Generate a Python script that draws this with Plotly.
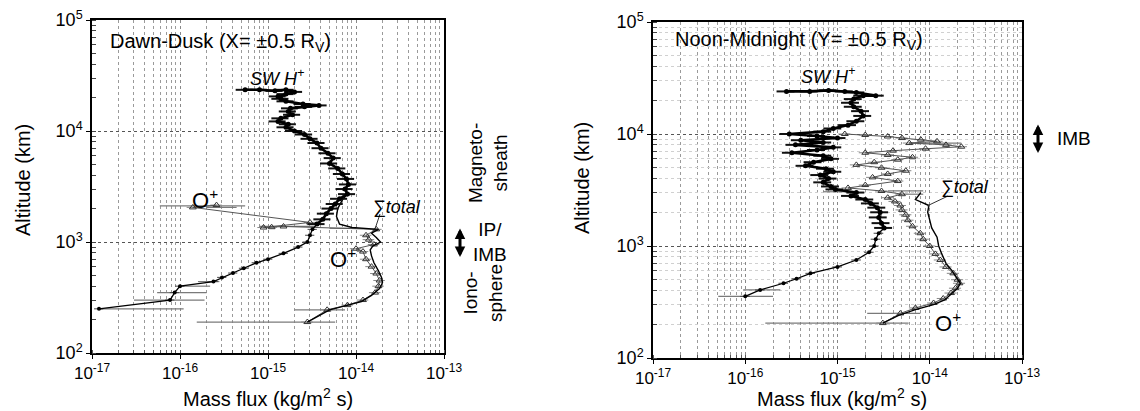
import numpy as np
import plotly.graph_objects as go

# ---------------- DATA ----------------
# Left panel: Dawn-Dusk
dd_h_alt = [2.35e4, 2.35e4, 2.3e4, 2.35e4, 2.25e4, 2.15e4, 2.05e4, 1.95e4, 1.85e4, 1.75e4, 1.7e4, 1.65e4,
            1.6e4, 1.5e4, 1.4e4, 1.3e4, 1.22e4, 1.15e4, 1.08e4, 1.0e4, 9.3e3, 8.5e3, 7.8e3, 7.0e3, 6.3e3,
            5.7e3, 5.1e3, 4.6e3, 4.1e3, 3.7e3, 3.3e3, 3.0e3, 2.7e3, 2.45e3, 2.2e3, 2.0e3, 1.8e3, 1.6e3,
            1.45e3, 1.3e3, 1.15e3, 1.0e3, 900, 790, 700, 650, 580, 525, 480, 440, 400, 350, 300, 250]
dd_h_flux = [5.5e-16, 8e-16, 1.2e-15, 1.6e-15, 2.0e-15, 1.6e-15, 1.3e-15, 1.4e-15, 1.6e-15, 2.5e-15, 3.8e-15, 2.6e-15,
             1.8e-15, 1.7e-15, 1.9e-15, 1.4e-15, 1.3e-15, 1.7e-15, 1.6e-15, 2.0e-15, 2.6e-15, 3.0e-15, 3.6e-15, 4.0e-15, 4.8e-15,
             5.5e-15, 5.0e-15, 6.2e-15, 7.0e-15, 7.8e-15, 8.2e-15, 7.5e-15, 8.0e-15, 6.5e-15, 5.8e-15, 5.2e-15, 4.6e-15, 4.2e-15,
             3.6e-15, 3.2e-15, 3.0e-15, 2.8e-15, 2.2e-15, 1.5e-15, 1.0e-15, 7.4e-16, 5.3e-16, 4.0e-16, 3.0e-16, 2.4e-16, 1.0e-16, 8.7e-17, 7.7e-17, 1.2e-17]

dd_o_alt = [2.15e3, 2.05e3, 1.5e3, 1.35e3, 1.36e3, 1.38e3, 1.3e3, 1.15e3, 1.05e3, 950, 870, 820, 700, 600,
            520, 450, 400, 350, 300, 270, 245, 190]
dd_o_flux = [2.6e-16, 1.4e-16, 3.0e-15, 8.9e-16, 1.1e-15, 1.5e-15, 1.7e-14, 1.3e-14, 1.4e-14, 1.6e-14, 1.0e-14, 1.2e-14, 1.3e-14, 1.5e-14,
             1.7e-14, 1.85e-14, 1.8e-14, 1.65e-14, 1.2e-14, 8e-15, 4.7e-15, 2.8e-15]

dd_t_alt = [3.3e3, 3.0e3, 2.7e3, 2.4e3, 2.0e3, 1.7e3, 1.45e3, 1.35e3, 1.3e3, 1.2e3, 1.1e3, 1.0e3, 920, 850, 750,
            650, 550, 480, 430, 380, 330, 290, 245, 190]
dd_t_flux = [8.2e-15, 7.6e-15, 8.0e-15, 7.0e-15, 6.2e-15, 6.0e-15, 6.5e-15, 9e-15, 1.8e-14, 1.5e-14, 1.7e-14, 1.9e-14, 1.55e-14, 1.45e-14, 1.5e-14,
             1.6e-14, 1.8e-14, 1.95e-14, 2.0e-14, 1.85e-14, 1.5e-14, 1.15e-14, 5e-15, 2.8e-15]

# wide error bars: altitude, low flux, high flux
dd_eb_alt = [2.12e3, 2.05e3, 1.38e3, 1.33e3, 440, 400, 350, 300, 250, 245, 190]
dd_eb_lo = [5.9e-17, 2.0e-16, 8.0e-16, 5.0e-15, 1.6e-16, 1.0e-16, 5.5e-17, 3.0e-17, 1.2e-17, 2.0e-15, 1.55e-16]
dd_eb_hi = [5.5e-16, 4.4e-16, 3.5e-15, 1.0e-14, 2.8e-16, 2.2e-16, 2.0e-16, 1.9e-16, 1.1e-16, 7.5e-15, 5.8e-15]

# Right panel: Noon-Midnight
nm_h_alt = [2.4e4, 2.4e4, 2.45e4, 2.4e4, 2.35e4, 2.2e4, 2.2e4, 2.05e4, 1.9e4, 1.75e4, 1.6e4, 1.45e4, 1.3e4, 1.2e4,
            1.12e4, 1.05e4, 1.0e4, 9.6e3, 9.2e3, 8.8e3, 8.4e3, 8.0e3, 7.6e3, 7.2e3, 6.8e3, 6.4e3, 6.0e3, 5.6e3,
            5.2e3, 4.9e3, 4.6e3, 4.3e3, 4.0e3, 3.7e3, 3.4e3, 3.2e3, 3.0e3, 2.8e3, 2.6e3, 2.4e3, 2.2e3, 2.0e3,
            1.8e3, 1.6e3, 1.45e3, 1.3e3, 1.15e3, 1.0e3, 880, 750, 650, 570, 510, 465, 405, 355]
nm_h_flux = [2.8e-16, 5e-16, 8e-16, 1.2e-15, 1.6e-15, 2.6e-15, 1.9e-15, 1.5e-15, 1.4e-15, 1.5e-15, 1.8e-15, 1.9e-15, 1.6e-15, 1.3e-15,
             9e-16, 7e-16, 3e-16, 6e-16, 1.0e-15, 4e-16, 7e-16, 3.5e-16, 9e-16, 6e-16, 3.2e-16, 7e-16, 8.5e-16, 5.5e-16,
             4.5e-16, 7.5e-16, 9e-16, 6.5e-16, 8e-16, 7e-16, 8.5e-16, 9.5e-16, 1.6e-15, 1.4e-15, 2.0e-15, 2.3e-15, 2.7e-15, 2.9e-15,
             2.8e-15, 3.0e-15, 3.2e-15, 2.8e-15, 2.6e-15, 2.5e-15, 2.2e-15, 1.6e-15, 1.0e-15, 5.1e-16, 3.6e-16, 2.6e-16, 1.45e-16, 1.0e-16]

nm_o_alt = [1.0e4, 9.8e3, 9.5e3, 9.2e3, 8.9e3, 8.6e3, 8.3e3, 8.0e3, 7.7e3, 7.4e3, 7.1e3, 6.8e3, 6.5e3, 6.2e3,
            5.9e3, 5.6e3, 5.3e3, 5.0e3, 4.7e3, 4.4e3, 4.1e3, 3.8e3, 3.5e3, 3.3e3, 3.1e3, 2.9e3, 2.7e3, 2.5e3,
            2.3e3, 2.1e3, 1.9e3, 1.7e3, 1.5e3, 1.3e3, 1.15e3, 1.0e3, 850, 750, 650, 570, 500, 465, 420, 380,
            340, 310, 280, 250, 205]
nm_o_flux = [1.2e-15, 2.0e-15, 3.5e-15, 5e-15, 8e-15, 1.2e-14, 6e-15, 1.5e-14, 2.2e-14, 9e-15, 4e-15, 2.0e-15, 3.5e-15, 6.5e-15,
             4.5e-15, 2.5e-15, 1.6e-15, 3.0e-15, 5.5e-15, 3.5e-15, 2.4e-15, 4.5e-15, 2.0e-15, 1.3e-15, 3.0e-15, 5.0e-15, 3.5e-15, 4.2e-15,
             4.8e-15, 5.0e-15, 5.5e-15, 5.8e-15, 6.5e-15, 7.9e-15, 8.5e-15, 1.0e-14, 1.15e-14, 1.3e-14, 1.5e-14, 1.8e-14, 2.0e-14, 2.1e-14, 1.9e-14, 1.7e-14,
             1.4e-14, 1.1e-14, 7e-15, 4.8e-15, 3.1e-15]

nm_t_alt = [3.0e3, 2.6e3, 2.3e3, 2.0e3, 1.7e3, 1.45e3, 1.2e3, 1.0e3, 850, 700, 600, 500, 465, 420, 380, 330,
            300, 270, 240, 205]
nm_t_flux = [8e-15, 7e-15, 9.8e-15, 9.5e-15, 1.0e-14, 1.05e-14, 1.2e-14, 1.25e-14, 1.35e-14, 1.5e-14, 1.75e-14, 2.05e-14, 2.15e-14, 2.0e-14, 1.75e-14, 1.45e-14,
             1.1e-14, 7e-15, 4.6e-15, 3.1e-15]

nm_eb_alt = [8.3e3, 3.05e3, 3.1e3, 2.9e3, 405, 355, 250, 205]
nm_eb_lo = [8.0e-15, 7.0e-16, 3.5e-15, 5.0e-15, 9.5e-17, 5.1e-17, 2.1e-15, 1.65e-16]
nm_eb_hi = [2.2e-14, 1.3e-15, 8.5e-15, 8.5e-15, 2.4e-16, 2.0e-16, 7.9e-15, 5.9e-15]

x_tickvals = [1e-17, 1e-16, 1e-15, 1e-14, 1e-13]
x_ticktext = ["10<sup>-17</sup>", "10<sup>-16</sup>", "10<sup>-15</sup>", "10<sup>-14</sup>", "10<sup>-13</sup>"]
y_tickvals = [1e2, 1e3, 1e4, 1e5]
y_ticktext = ["10<sup>2</sup>", "10<sup>3</sup>", "10<sup>4</sup>", "10<sup>5</sup>"]

# ---------------- FIGURE ----------------
W, H = 1140, 411
OFF = 8  # page body offset
FONT = "Arial, Liberation Sans, sans-serif"
SPLIT_ALT = 1.35e3  # magnetosheath band drawn heavier than the ionospheric tail


def px(x):
    return (x - OFF) / W


def py(y):
    return 1 - (y - OFF) / H


fig = go.Figure()


def add_panel(xa, ya, h_alt, h_flux, o_alt, o_flux, t_alt, t_flux, eb_alt, eb_lo, eb_hi):
    for a, lo, hi in zip(eb_alt, eb_lo, eb_hi):
        fig.add_trace(go.Scatter(x=[lo, hi], y=[a, a], mode="lines", xaxis=xa, yaxis=ya,
                                 line=dict(color="#7a7a7a", width=1.2), showlegend=False, hoverinfo="skip"))
    fig.add_trace(go.Scatter(x=o_flux, y=o_alt, mode="lines+markers", xaxis=xa, yaxis=ya,
                             line=dict(color="#555", width=1),
                             marker=dict(symbol="triangle-up-open", size=6, color="#333", line=dict(width=1)),
                             error_x=dict(type="percent", value=15, color="#888", thickness=1, width=0),
                             showlegend=False))
    fig.add_trace(go.Scatter(x=t_flux, y=t_alt, mode="lines", xaxis=xa, yaxis=ya,
                             line=dict(color="black", width=1.4), showlegend=False))
    hi_idx = [i for i, a in enumerate(h_alt) if a >= SPLIT_ALT]
    lo_idx = [i for i, a in enumerate(h_alt) if a <= SPLIT_ALT or i == hi_idx[-1]]
    fig.add_trace(go.Scatter(x=[h_flux[i] for i in lo_idx], y=[h_alt[i] for i in lo_idx],
                             mode="lines+markers", xaxis=xa, yaxis=ya,
                             line=dict(color="black", width=1.3),
                             marker=dict(symbol="circle", size=4, color="black"),
                             error_x=dict(type="percent", value=12, color="#444", thickness=1, width=0),
                             showlegend=False))
    fig.add_trace(go.Scatter(x=[h_flux[i] for i in hi_idx], y=[h_alt[i] for i in hi_idx],
                             mode="lines+markers", xaxis=xa, yaxis=ya,
                             line=dict(color="black", width=2.6),
                             marker=dict(symbol="circle", size=5, color="black"),
                             error_x=dict(type="percent", value=22, color="#111", thickness=2, width=0),
                             showlegend=False))


add_panel("x", "y", dd_h_alt, dd_h_flux, dd_o_alt, dd_o_flux, dd_t_alt, dd_t_flux, dd_eb_alt, dd_eb_lo, dd_eb_hi)
add_panel("x2", "y2", nm_h_alt, nm_h_flux, nm_o_alt, nm_o_flux, nm_t_alt, nm_t_flux, nm_eb_alt, nm_eb_lo, nm_eb_hi)

xcommon = dict(type="log", range=[-17, -13], tickvals=x_tickvals, ticktext=x_ticktext, automargin=False,
               showline=True, linecolor="black", linewidth=1.5, mirror=True,
               ticks="outside", ticklen=4, tickcolor="black", ticklabeloverflow="allow",
               showgrid=True, gridcolor="#888", griddash="dot", gridwidth=1,
               minor=dict(dtick="D1", showgrid=True, gridcolor="#9a9a9a", griddash="dot", gridwidth=1,
                          ticks="inside", ticklen=3, tickcolor="#555"),
               tickfont=dict(family=FONT, size=17, color="black"), zeroline=False)
ycommon = dict(type="log", range=[2, 5], tickvals=y_tickvals, ticktext=y_ticktext, automargin=False,
               showline=True, linecolor="black", linewidth=1.5, mirror=True,
               ticks="outside", ticklen=4, tickcolor="black", ticklabeloverflow="allow",
               showgrid=True, gridcolor="#555", griddash="dot", gridwidth=1.3,
               tickfont=dict(family=FONT, size=18, color="black"), zeroline=False)

fig.update_layout(
    width=W, height=H, margin=dict(l=0, r=0, t=0, b=0, autoexpand=False),
    paper_bgcolor="white", plot_bgcolor="white",
    xaxis=dict(domain=[px(92), px(444)], anchor="y", **xcommon),
    yaxis=dict(domain=[py(353), py(20)], anchor="x",
               minor=dict(dtick="D1", showgrid=False, ticks="inside", ticklen=4, tickcolor="#444"), **ycommon),
    xaxis2=dict(domain=[px(653), px(1022)], anchor="y2", **xcommon),
    yaxis2=dict(domain=[py(358), py(22)], anchor="x2",
                minor=dict(dtick="D1", showgrid=True, gridcolor="#d0d0d0", griddash="dot",
                           ticks="inside", ticklen=4, tickcolor="#444"), **ycommon),
    showlegend=False,
)


def ann(x, y, text, size=17, italic=False, angle=0, xanchor="center", yanchor="middle", align="center"):
    if italic:
        text = "<i>" + text + "</i>"
    fig.add_annotation(x=px(x), y=py(y), xref="paper", yref="paper", text=text, showarrow=False,
                       font=dict(family=FONT, size=size, color="black"), textangle=angle,
                       xanchor=xanchor, yanchor=yanchor, align=align)


# Axis titles
ann(23, 180, "Altitude (km)", size=20, angle=-90)
ann(582, 178, "Altitude (km)", size=20, angle=-90)
ann(268, 397, "Mass flux (kg/m<sup>2</sup> s)", size=20)
ann(842, 397, "Mass flux (kg/m<sup>2</sup> s)", size=20)

# Left panel labels
ann(108, 42, "Dawn-Dusk (X= ±0.5 R<sub>V</sub>)", size=20, xanchor="left")
ann(277, 77, "SW H<sup>+</sup>", size=18, italic=True)
ann(205, 199, "O<sup>+</sup>", size=22)
ann(343, 258, "O<sup>+</sup>", size=22)
ann(397, 207, "∑<i>total</i>", size=18)
ann(488, 163, "Magneto-<br>sheath", size=19, angle=-90)
ann(490, 242, "IP/<br>IMB", size=19)
ann(483, 293, "Iono-<br>sphere", size=19, angle=-90)

# Right panel labels
ann(673, 40, "Noon-Midnight (Y= ±0.5 R<sub>V</sub>)", size=20, xanchor="left")
ann(828, 75, "SW H<sup>+</sup>", size=18, italic=True)
ann(965, 187, "∑<i>total</i>", size=18)
ann(948, 322, "O<sup>+</sup>", size=22)
ann(1074, 138, "IMB", size=19)

# leader lines for total
for (x0, y0, x1, y1) in [(380, 214, 375, 229), (948, 196, 927, 206)]:
    fig.add_shape(type="line", xref="paper", yref="paper", x0=px(x0), y0=py(y0), x1=px(x1), y1=py(y1),
                  line=dict(color="#333", width=1))

# double arrows
for (x, y) in [(460, 242), (1038, 138)]:
    fig.add_annotation(x=px(x), y=py(y + 15), ax=0, ay=-30, xref="paper", yref="paper",
                       axref="pixel", ayref="pixel", text="", showarrow=True,
                       arrowhead=2, arrowsize=0.7, arrowwidth=3, arrowcolor="black", arrowside="end+start")

fig.write_html("out.html")
